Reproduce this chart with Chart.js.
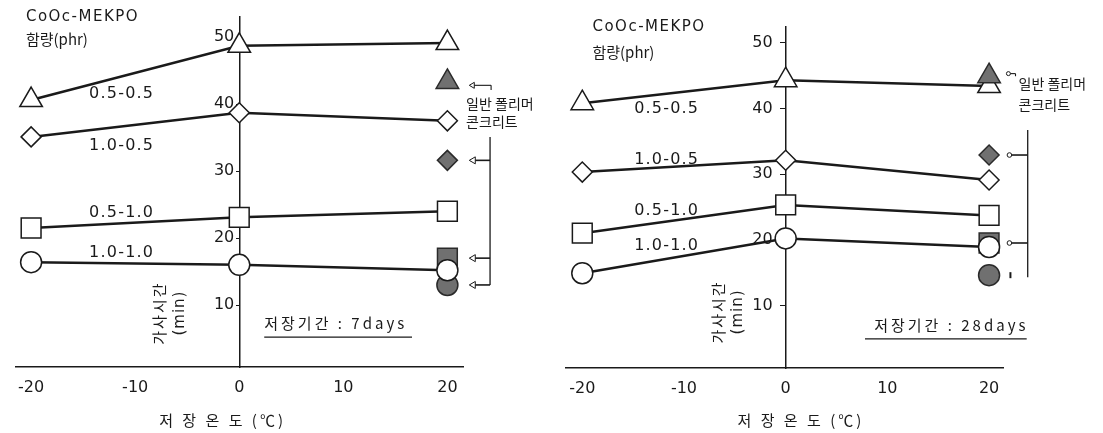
<!DOCTYPE html>
<html>
<head>
<meta charset="utf-8">
<script src="https://cdn.jsdelivr.net/npm/chart.js@4.4.1/dist/chart.umd.min.js"></script>
<style>
  html, body { margin: 0; padding: 0; background: #fff; }
  #wrap { position: relative; width: 1103px; height: 433px; }
  canvas { position: absolute; top: 0; }
  #c7 { left: 0; }
  #c28 { left: 550px; }
</style>
</head>
<body>
<div id="wrap">
  <canvas id="c7" width="550" height="433"></canvas>
  <canvas id="c28" width="553" height="433"></canvas>
</div>
<script>
// 저장온도 (℃)
const tempC = [-20, 0, 20];
const xTicks = [-20, -10, 0, 10, 20];
const yTicks = [10, 20, 30, 40, 50];
// CoOc-MEKPO 함량 (phr)
const mixLabels = ['0.5-0.5', '1.0-0.5', '0.5-1.0', '1.0-1.0'];

// 가사시간 (min) - 저장기간 7days
const d7_05_05 = [40.6, 48.7, 49.1];
const d7_10_05 = [35.1, 38.7, 37.5];
const d7_05_10 = [21.5, 23.1, 24.0];
const d7_10_10 = [16.4, 16.0, 15.2];
const d7_plain = [43.3, 31.6, 17.0, 13.0];   // 일반 폴리머 콘크리트 (20℃)

// 가사시간 (min) - 저장기간 28days
const d28_05_05 = [40.8, 44.3, 43.4];
const d28_10_05 = [30.3, 32.1, 29.1];
const d28_05_10 = [21.0, 25.3, 23.7];
const d28_10_10 = [14.9, 20.2, 18.9];
const d28_plain = [44.9, 32.9, 19.5, 14.6];
const plainTemp = 20;

const FONT = '"DejaVu Sans", "Noto Sans CJK KR", sans-serif';
const KFONT = '"Noto Sans CJK KR", "DejaVu Sans", sans-serif';
const INK = '#1a1a1a';
const shapes = ['triangle', 'rectRot', 'rect', 'circle'];
const radii = [13, 10, 14, 10.5];

function makeDatasets(series, plain) {
    const sets = series.map((vals, i) => ({
        data: tempC.map((t, j) => ({ x: t, y: vals[j] })),
        showLine: true,
        borderColor: INK,
        borderWidth: 2.5,
        pointStyle: shapes[i],
        pointRadius: radii[i],
        pointBackgroundColor: '#fff',
        pointBorderColor: INK,
        pointBorderWidth: 1.5,
        clip: false,
        order: 1
    }));
    // filled markers = plain polymer concrete; the triangle sits on top
    plain.forEach((v, i) => sets.push({
        data: [{ x: plainTemp, y: v }],
        showLine: false,
        pointStyle: shapes[i],
        pointRadius: radii[i],
        pointBackgroundColor: '#707070',
        pointBorderColor: '#2a2a2a',
        pointBorderWidth: 1.5,
        clip: false,
        order: i === 0 ? 0 : 2
    }));
    return sets;
}

// texts, bracket and arrows drawn in data units
const notesPlugin = {
    id: 'panelNotes',
    beforeDatasetsDraw(chart, args, n) {
        // y tick labels sit left of the centred axis, under the markers
        const { ctx } = chart;
        const sy = chart.scales.y;
        const x0 = chart.scales.x.getPixelForValue(0);
        ctx.save();
        ctx.fillStyle = INK;
        ctx.font = '16px ' + FONT;
        ctx.textAlign = 'right';
        ctx.textBaseline = 'middle';
        sy.ticks.forEach(t => ctx.fillText(String(t.value), x0 - n.yPad, sy.getPixelForValue(t.value)));
        ctx.restore();
    },
    afterDraw(chart, args, n) {
        const { ctx } = chart;
        const X = v => chart.scales.x.getPixelForValue(v);
        const Y = v => chart.scales.y.getPixelForValue(v);
        ctx.save();
        ctx.fillStyle = INK;
        ctx.strokeStyle = INK;
        const text = (s, x, y, font, align, spacing) => {
            ctx.font = font;
            ctx.textAlign = align;
            ctx.textBaseline = 'middle';
            ctx.letterSpacing = spacing || '0px';
            ctx.fillText(s, X(x), Y(y));
        };
        const line = (x1, y1, x2, y2, w) => {
            ctx.lineWidth = w || 1.3;
            ctx.beginPath();
            ctx.moveTo(X(x1), Y(y1));
            ctx.lineTo(X(x2), Y(y2));
            ctx.stroke();
        };

        text('CoOc-MEKPO', n.head[0], n.head[1], '15px ' + FONT, 'left', '1.5px');
        text('함량(phr)', n.head[0], n.head[2], '15px ' + KFONT, 'left');

        mixLabels.forEach((s, i) => text(s, n.mixX, n.mixY[i], '16px ' + FONT, 'center', '1.2px'));

        // y title, rotated
        [['가사시간', n.yTitle[0], '15px ' + KFONT, '2px'], ['(min)', n.yTitle[1], '15px ' + FONT, '1px']].forEach(([s, x, f, sp]) => {
            ctx.save();
            ctx.translate(X(x), Y(n.yTitle[2]));
            ctx.rotate(-Math.PI / 2);
            ctx.font = f;
            ctx.letterSpacing = sp;
            ctx.textAlign = 'center';
            ctx.textBaseline = 'middle';
            ctx.fillText(s, 0, 0);
            ctx.restore();
        });

        text(n.period, n.periodAt[0], n.periodAt[1], '15px ' + KFONT, 'left', '3px');
        line(n.underline[0], n.underline[2], n.underline[1], n.underline[2], 1.2);

        text('저 장 온 도 (℃)', n.xTitle[0], n.xTitle[1], '15px ' + KFONT, 'center', '3px');

        text('일반 폴리머', n.note[0], n.note[1], '14px ' + KFONT, 'left');
        text('콘크리트', n.note[0], n.note[2], '14px ' + KFONT, 'left');

        // bracket from the plain markers
        const b = n.bracket;
        line(b.x, b.top, b.x, b.bottom, 1.3);
        b.rows.forEach(i => {
            const y = n.plain[i];
            line(b.from, y, b.x, y, 1.6);
            ctx.lineWidth = 1;
            ctx.beginPath();
            if (b.tail === 'arrow') {
                ctx.moveTo(X(b.from) - 1, Y(y));
                ctx.lineTo(X(b.from) + 5, Y(y) - 3.5);
                ctx.lineTo(X(b.from) + 5, Y(y) + 3.5);
                ctx.closePath();
            } else {
                ctx.arc(X(b.from) - 1, Y(y), 2.3, 0, Math.PI * 2);
            }
            ctx.fillStyle = '#fff';
            ctx.fill();
            ctx.stroke();
            ctx.fillStyle = INK;
        });
        if (b.dot !== undefined) {
            ctx.fillRect(X(b.from) - 1, Y(n.plain[b.dot]) - 3, 2, 6);
        }
        // pointer to the filled triangle
        const t = n.topPointer;
        line(t.from, t.y, t.to, t.y, 1.1);
        line(t.to, t.y, t.to, t.y2, 1.1);
        ctx.lineWidth = 1;
        ctx.beginPath();
        if (b.tail === 'arrow') {
            ctx.moveTo(X(t.from) - 1, Y(t.y));
            ctx.lineTo(X(t.from) + 4, Y(t.y) - 3);
            ctx.lineTo(X(t.from) + 4, Y(t.y) + 3);
            ctx.closePath();
        } else {
            ctx.arc(X(t.from) - 1, Y(t.y), 2, 0, Math.PI * 2);
        }
        ctx.fillStyle = '#fff';
        ctx.fill();
        ctx.stroke();
        ctx.restore();
    }
};

function makeChart(id, series, plain, sc, pad, notes) {
    new Chart(document.getElementById(id), {
        type: 'scatter',
        data: { datasets: makeDatasets(series, plain) },
        options: {
            responsive: false,
            animation: false,
            devicePixelRatio: 1,
            layout: { padding: pad },
            plugins: {
                legend: { display: false },
                tooltip: { enabled: false },
                panelNotes: notes
            },
            scales: {
                x: {
                    type: 'linear',
                    min: sc.xMin,
                    max: sc.xMax,
                    afterBuildTicks: s => { s.ticks = xTicks.map(v => ({ value: v })); },
                    afterFit: s => { s.height = 40; },
                    grid: { display: false, drawTicks: false },
                    border: { display: true, color: INK, width: 1.5 },
                    ticks: { font: { family: FONT, size: 16 }, color: INK, padding: 11, maxRotation: 0, autoSkip: false }
                },
                y: {
                    type: 'linear',
                    min: sc.yMin,
                    max: sc.yMax,
                    position: { x: 0 },
                    afterBuildTicks: s => { s.ticks = yTicks.map(v => ({ value: v })); },
                    afterFit: s => { s.width = 0; },
                    grid: { display: true, drawOnChartArea: false, drawTicks: true, tickLength: sc.tickLen, color: INK },
                    border: { display: true, color: INK, width: 1.5 },
                    ticks: { display: false }
                }
            }
        },
        plugins: [notesPlugin]
    });
}

// Panel 1 - 저장기간 7days
makeChart('c7',
    [d7_05_05, d7_10_05, d7_05_10, d7_10_10], d7_plain,
    { xMin: -21.5, xMax: 21.5, yMin: 0.75, yMax: 53, tickLen: 3 },
    { top: 17, left: 12, right: 87, bottom: 26 },
    {
        plain: d7_plain,
        yPad: 5,
        head: [-20.5, 53.0, 49.7],
        mixX: -11.3, mixY: [41.5, 33.7, 23.7, 17.8],
        yTitle: [-7.7, -5.7, 8.8],
        period: '저장기간 : 7days', periodAt: [2.4, 7.3], underline: [2.4, 16.6, 5.2],
        xTitle: [-1.6, -7.2],
        note: [21.8, 40.1, 37.3],
        bracket: { x: 24.1, top: 35.1, bottom: 13.0, from: 22.2, rows: [1, 2, 3], tail: 'arrow' },
        topPointer: { from: 22.2, to: 24.2, y: 42.8, y2: 42.1 }
    });

// Panel 2 - 저장기간 28days
makeChart('c28',
    [d28_05_05, d28_10_05, d28_05_10, d28_10_10], d28_plain,
    { xMin: -21.65, xMax: 21.37, yMin: 0.46, yMax: 52.4, tickLen: 5 },
    { top: 27, left: 0, right: 100, bottom: 25 },
    {
        plain: d28_plain,
        yPad: 13,
        head: [-19.0, 52.4, 48.6],
        mixX: -11.7, mixY: [40.0, 32.1, 24.4, 19.0],
        yTitle: [-6.6, -4.65, 9.0],
        period: '저장기간 : 28days', periodAt: [8.7, 7.0], underline: [7.8, 23.7, 4.9],
        xTitle: [1.5, -7.5],
        note: [22.9, 43.8, 40.5],
        bracket: { x: 23.8, top: 36.7, bottom: 14.3, from: 22.1, rows: [1, 2], dot: 3, tail: 'circle' },
        topPointer: { from: 22.0, to: 22.6, y: 45.3, y2: 44.9 }
    });
</script>
</body>
</html>
